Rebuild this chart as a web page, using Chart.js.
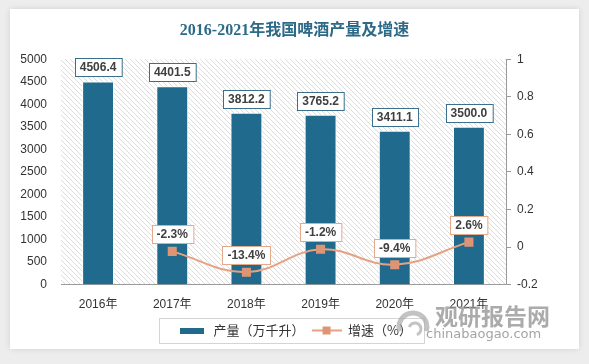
<!DOCTYPE html>
<html>
<head>
<meta charset="utf-8">
<script src="https://cdn.jsdelivr.net/npm/chart.js@4/dist/chart.umd.min.js"></script>
<style>
  html, body { margin: 0; padding: 0; background: #ededed; }
  body { width: 589px; height: 364px; position: relative; overflow: hidden; }
  #card { position: absolute; left: 10px; top: 9px; width: 569px; height: 340px; background: #fff;
          box-shadow: 0 0 6px rgba(0,0,0,0.12); }
  canvas { display: block; }
</style>
</head>
<body>
<div id="card"><canvas id="c" width="569" height="340"></canvas></div>
<script>
const years = ['2016年', '2017年', '2018年', '2019年', '2020年', '2021年'];
const output = [4506.4, 4401.5, 3812.2, 3765.2, 3411.1, 3500.0];   // 万千升
const growth = [null, -0.023, -0.134, -0.012, -0.094, 0.026];      // 增速
const leftTicks = [0, 5000, 500];
const rightTicks = [-0.2, 1, 0.2];

const BAR = '#1f6a8d';
const LINE = '#e6a282';
const MARK = '#de9575';
const TICKFONT = '"Liberation Sans", "Noto Sans CJK SC", sans-serif';

// hatch for plot background
function hatch() {
  const t = document.createElement('canvas');
  t.width = 5; t.height = 5;
  const g = t.getContext('2d');
  g.strokeStyle = '#dcdcdc';
  g.lineWidth = 1;
  g.beginPath();
  g.moveTo(-1, -1); g.lineTo(6, 6);
  g.moveTo(-1, 4); g.lineTo(1, 6);
  g.moveTo(4, -1); g.lineTo(6, 1);
  g.stroke();
  return t;
}

function barIcon() {
  const t = document.createElement('canvas');
  t.width = 24; t.height = 6;
  const g = t.getContext('2d');
  g.fillStyle = BAR; g.fillRect(0, 0, 24, 6);
  return t;
}
function lineIcon() {
  const t = document.createElement('canvas');
  t.width = 30; t.height = 10;
  const g = t.getContext('2d');
  g.strokeStyle = LINE; g.lineWidth = 2;
  g.beginPath(); g.moveTo(0, 5); g.lineTo(30, 5); g.stroke();
  g.fillStyle = MARK; g.fillRect(11, 1, 8, 8);
  return t;
}

const bgPlugin = {
  id: 'bg',
  beforeDraw(chart) {
    const a = chart.chartArea, ctx = chart.ctx;
    ctx.save();
    ctx.fillStyle = ctx.createPattern(hatch(), 'repeat');
    ctx.fillRect(a.left, a.top, a.right - a.left, a.bottom - a.top);
    ctx.restore();
  }
};

function box(ctx, x, yBottom, text, border) {
  ctx.font = 'bold 12px "Liberation Sans", sans-serif';
  const w = ctx.measureText(text).width + 10, h = 18;
  const l = Math.round(x - w / 2) + 0.5, t = Math.round(yBottom - h) + 0.5;
  ctx.fillStyle = '#fff';
  ctx.fillRect(l, t, w, h);
  ctx.strokeStyle = border; ctx.lineWidth = 1;
  ctx.strokeRect(l, t, w, h);
  ctx.fillStyle = '#404040';
  ctx.textAlign = 'center'; ctx.textBaseline = 'middle';
  ctx.fillText(text, x, t + h / 2 + 0.5);
}

const labelPlugin = {
  id: 'labels',
  afterDatasetsDraw(chart) {
    const ctx = chart.ctx;
    ctx.save();
    chart.getDatasetMeta(0).data.forEach((el, i) => {
      box(ctx, el.x, el.y - 5, output[i].toFixed(1), '#3b6f8c');
    });
    chart.getDatasetMeta(1).data.forEach((el, i) => {
      if (growth[i] === null) return;
      box(ctx, el.x, el.y - 8, (growth[i] * 100).toFixed(1) + '%', '#e3a98c');
    });
    ctx.restore();
  },
  afterDraw(chart) {
    const ctx = chart.ctx;
    const hb = chart.legend.legendHitBoxes;
    if (hb && hb.length) {
      const l = Math.min(...hb.map(b => b.left)) - 18;
      const r = Math.max(...hb.map(b => b.left + b.width)) + 12;
      const t = hb[0].top - 6, b = hb[0].top + hb[0].height + 6;
      ctx.save();
      ctx.strokeStyle = '#d4d4d4'; ctx.lineWidth = 1;
      ctx.strokeRect(Math.round(l) + 0.5, Math.round(t) + 0.5, Math.round(r - l), Math.round(b - t));
      ctx.restore();
    }
    // watermark
    ctx.save();
    ctx.fillStyle = 'rgba(150,150,150,0.8)';
    ctx.font = 'bold 23px "Noto Sans CJK SC", sans-serif';
    ctx.textAlign = 'left'; ctx.textBaseline = 'middle';
    ctx.fillText('观研报告网', 425, 307);
    ctx.font = '13px "DejaVu Sans", sans-serif';
    ctx.fillStyle = 'rgba(140,140,140,0.8)';
    ctx.fillText('chinabaogao.com', 416, 326);
    ctx.strokeStyle = 'rgba(170,170,170,0.7)';
    ctx.lineWidth = 5;
    ctx.beginPath(); ctx.arc(403, 318, 14, Math.PI * 0.9, Math.PI * 2.1); ctx.stroke();
    ctx.lineWidth = 3;
    ctx.beginPath(); ctx.arc(405, 320, 6, Math.PI * 1.1, Math.PI * 2.4); ctx.stroke();
    ctx.restore();
  }
};

new Chart(document.getElementById('c'), {
  data: {
    labels: years,
    datasets: [
      {
        type: 'bar', label: '产量（万千升）', data: output, yAxisID: 'y',
        backgroundColor: BAR, borderColor: '#ffffff', borderWidth: 1,
        barPercentage: 0.43, categoryPercentage: 1, order: 2
      },
      {
        type: 'line', label: '增速（%）', data: growth, yAxisID: 'y1',
        borderColor: LINE, borderWidth: 2, tension: 0.4,
        pointStyle: 'rect', pointRadius: 5, pointBackgroundColor: MARK,
        pointBorderColor: MARK, order: 1
      }
    ]
  },
  options: {
    responsive: false,
    animation: false,
    layout: { padding: { top: 0, left: 0, right: 0, bottom: 2 } },
    plugins: {
      tooltip: { enabled: false },
      title: {
        display: true, text: '2016-2021年我国啤酒产量及增速', color: '#2c6a87',
        font: { family: '"Liberation Serif", "Noto Sans CJK SC", serif', size: 16, weight: 'bold' },
        padding: { top: 12, bottom: 19 }
      },
      legend: {
        position: 'bottom',
        labels: {
          usePointStyle: true, pointStyleWidth: 30, padding: 7,
          color: '#333', font: { family: '"Noto Sans CJK SC", sans-serif', size: 13 },
          generateLabels(chart) {
            return chart.data.datasets.map((d, i) => ({
              text: d.label, pointStyle: i === 0 ? barIcon() : lineIcon(),
              fillStyle: 'transparent', strokeStyle: 'transparent', lineWidth: 0,
              fontColor: '#333', datasetIndex: i
            }));
          }
        }
      }
    },
    scales: {
      x: {
        grid: { display: false },
        border: { color: '#9a9a9a' },
        ticks: { color: '#333', font: { family: TICKFONT, size: 12 }, padding: 5 }
      },
      y: {
        position: 'left', min: leftTicks[0], max: leftTicks[1],
        grid: { display: false }, border: { display: false },
        ticks: { stepSize: leftTicks[2], color: '#333', padding: 6,
                 font: { family: TICKFONT, size: 12 },
                 callback: v => String(v) },
        afterFit(s) { s.width = 51; }
      },
      y1: {
        position: 'right', min: rightTicks[0], max: rightTicks[1],
        grid: { drawOnChartArea: false, color: '#9a9a9a', tickLength: 5 },
        border: { color: '#9a9a9a' },
        ticks: { stepSize: rightTicks[2], color: '#333', padding: 6,
                 font: { family: TICKFONT, size: 12 },
                 callback: v => String(Math.round(v * 10) / 10) },
        afterFit(s) { s.width = 73; }
      }
    }
  },
  plugins: [bgPlugin, labelPlugin]
});
</script>
</body>
</html>
